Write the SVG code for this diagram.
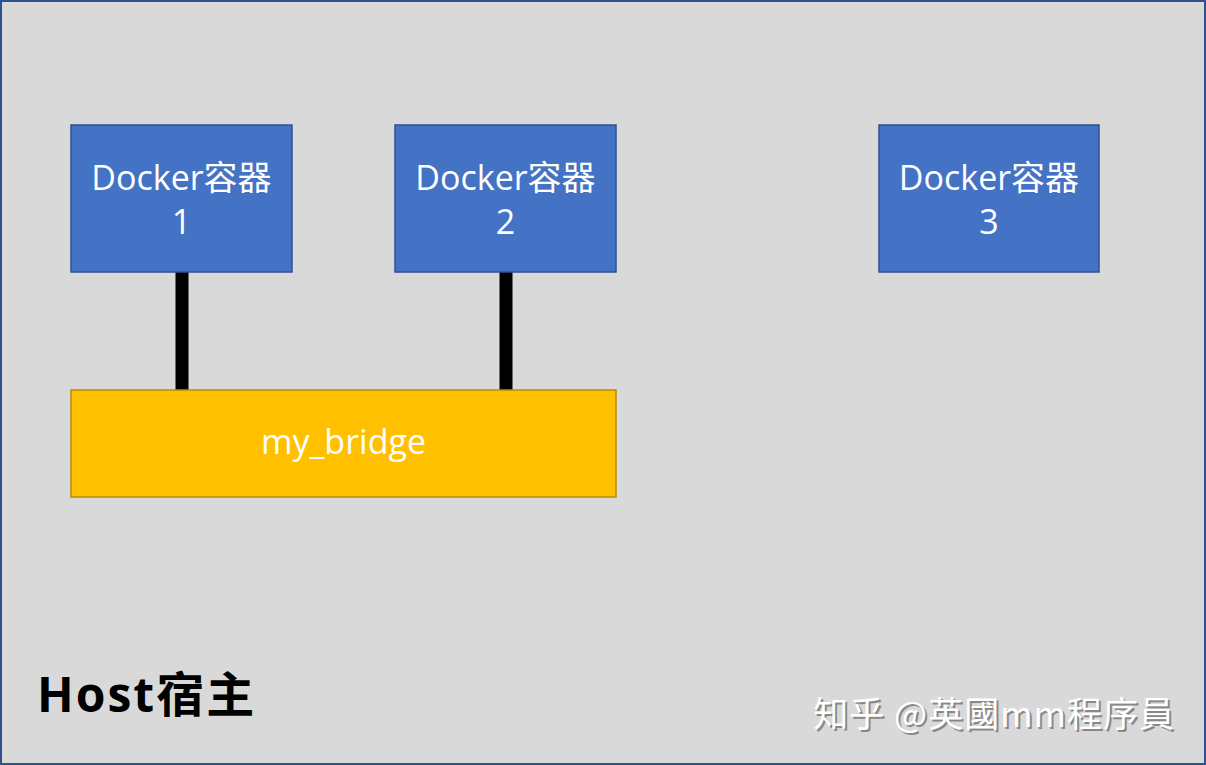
<svg xmlns="http://www.w3.org/2000/svg" width="1206" height="765" viewBox="0 0 1206 765">
<style>
.c{fill:#4472c4;stroke:#2f528f;stroke-width:1.5}
.t{font-family:"Open Sans","Noto Sans CJK SC",sans-serif;font-size:34px;fill:#fff;text-anchor:middle}
</style>
<rect x="1" y="1" width="1204" height="763" fill="#d9d9d9" stroke="#2f528f" stroke-width="2"/>
<g id="connectors" stroke="#000" stroke-width="13">
<line x1="182" y1="272" x2="182" y2="390"/>
<line x1="506" y1="272" x2="506" y2="390"/>
</g>
<g id="c1"><rect class="c" x="71" y="125" width="221" height="147"/><text class="t" x="181.5" y="190">Docker容器</text><text class="t" x="181.5" y="234">1</text></g>
<g id="c2"><rect class="c" x="395" y="125" width="221" height="147"/><text class="t" x="505.5" y="190">Docker容器</text><text class="t" x="505.5" y="234">2</text></g>
<g id="c3"><rect class="c" x="879" y="125" width="220" height="147"/><text class="t" x="989" y="190">Docker容器</text><text class="t" x="989" y="234">3</text></g>
<g id="bridge"><rect x="71" y="390" width="545" height="107" fill="#ffc000" stroke="#bc8c00" stroke-width="1.5"/><text class="t" x="343.5" y="454" font-size="32">my_bridge</text></g>
<g id="host"><text x="37" y="712" font-family="'Open Sans','Noto Sans CJK SC',sans-serif" font-weight="bold" font-size="48" letter-spacing="2" fill="#000">Host宿主</text></g>
<text x="1175" y="727" text-anchor="end" font-family="'Noto Sans CJK SC',sans-serif" font-size="35" letter-spacing="1" fill="#888" transform="translate(2,2)">知乎 @英國mm程序員</text>
<text x="1175" y="727" text-anchor="end" font-family="'Noto Sans CJK SC',sans-serif" font-size="35" letter-spacing="1" fill="#fff">知乎 @英國mm程序員</text>
</svg>
